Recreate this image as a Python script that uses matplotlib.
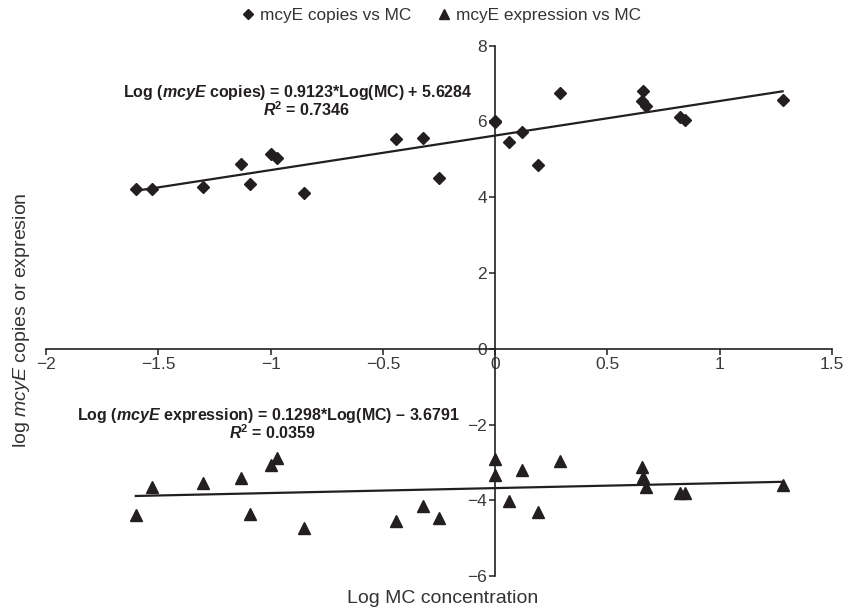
import numpy as np
import matplotlib.pyplot as plt
from matplotlib.lines import Line2D

# log MC concentration for each sample
log_mc = [-1.60, -1.53, -1.30, -1.13, -1.09, -1.00, -0.97, -0.85, -0.44, -0.32,
          -0.25, 0.0, 0.0, 0.06, 0.12, 0.19, 0.29, 0.655, 0.66, 0.67, 0.825,
          0.845, 1.28]
# log mcyE copies per sample
log_copies = [4.23, 4.23, 4.28, 4.87, 4.35, 5.13, 5.04, 4.11, 5.54, 5.56,
              4.52, 6.02, 5.99, 5.45, 5.71, 4.84, 6.74, 6.53, 6.81, 6.40, 6.11,
              6.05, 6.56]
# log mcyE expression per sample
log_expr = [-4.39, -3.65, -3.55, -3.42, -4.35, -3.06, -2.88, -4.73, -4.55, -4.16,
            -4.47, -2.91, -3.34, -4.01, -3.19, -4.32, -2.96, -3.11, -3.39, -3.65,
            -3.80, -3.80, -3.60]

# fitted trend lines (slope, intercept)
copies_fit = (0.9123, 5.6284)
expr_fit = (0.1298, -3.6791)

ink = '#231f20'
plt.rcParams['font.family'] = ['Liberation Sans', 'DejaVu Sans']
plt.rcParams['mathtext.fontset'] = 'custom'
plt.rcParams['mathtext.rm'] = 'Liberation Sans'
plt.rcParams['mathtext.it'] = 'Liberation Sans:italic'
plt.rcParams['mathtext.bf'] = 'Liberation Sans:bold'
plt.rcParams['mathtext.bfit'] = 'Liberation Sans:bold:italic'

fig = plt.figure(figsize=(8.47, 6.12), dpi=100)
ax = fig.add_axes([0.0543, 0.0588, 0.928, 0.8665])

ax.plot(log_mc, log_copies, 'D', color=ink, markersize=6.5, zorder=3)
ax.plot(log_mc, log_expr, '^', color=ink, markersize=9, zorder=3)

xs = np.array([min(log_mc), max(log_mc)])
ax.plot(xs, copies_fit[0] * xs + copies_fit[1], color=ink, lw=1.6)
ax.plot(xs, expr_fit[0] * xs + expr_fit[1], color=ink, lw=1.6)

ax.set_xlim(-2, 1.5)
ax.set_ylim(-6, 8)
ax.set_xticks([-2, -1.5, -1, -0.5, 0, 0.5, 1, 1.5])
ax.set_xticklabels(['\u22122', '\u22121.5', '\u22121', '\u22120.5', '0', '0.5', '1', '1.5'])
ax.set_yticks([-6, -4, -2, 0, 2, 4, 6, 8])
ax.set_yticklabels(['\u22126', '\u22124', '\u22122', '0', '2', '4', '6', '8'])

# axes cross at the origin
ax.spines['left'].set_position(('data', 0))
ax.spines['bottom'].set_position(('data', 0))
ax.spines['top'].set_visible(False)
ax.spines['right'].set_visible(False)
for s in ('left', 'bottom'):
    ax.spines[s].set_color(ink)
    ax.spines[s].set_linewidth(1.2)
ax.tick_params(direction='out', length=4, width=1.1, colors=ink,
               labelsize=12.5, labelcolor='#3a3a3a', pad=2)

ax.set_xlabel('Log MC concentration', fontsize=14, color='#333333')
ax.xaxis.set_label_coords(0.504, -0.026)
ax.set_ylabel('log $\\mathit{mcyE}$ copies or expresion', fontsize=14, color='#333333')
ax.yaxis.set_label_coords(-0.018, 0.483)

eq_font = dict(fontsize=11.5, fontweight='bold', color=ink, ha='center', va='center')
ax.text(-0.877, 6.77, 'Log ($\\mathbfit{mcyE}$ copies) = 0.9123*Log(MC) + 5.6284', **eq_font)
ax.text(-0.84, 6.31, '$\\mathbfit{R}^{\\mathbf{2}}$ = 0.7346', **eq_font)
ax.text(-1.01, -1.77, 'Log ($\\mathbfit{mcyE}$ expression) = 0.1298*Log(MC) \u2013 3.6791', **eq_font)
ax.text(-0.99, -2.22, '$\\mathbfit{R}^{\\mathbf{2}}$ = 0.0359', **eq_font)

handles = [Line2D([], [], ls='none', marker='D', color=ink, markersize=5.5),
           Line2D([], [], ls='none', marker='^', color=ink, markersize=7)]
fig.legend(handles, ['mcyE copies vs MC', 'mcyE expression vs MC'], ncol=2,
           loc='center', bbox_to_anchor=(0.52, 0.975), frameon=False,
           fontsize=12.4, handletextpad=0.2, columnspacing=1.4, handlelength=1,
           labelcolor='#333333')

fig.savefig('out.png', dpi=100)
